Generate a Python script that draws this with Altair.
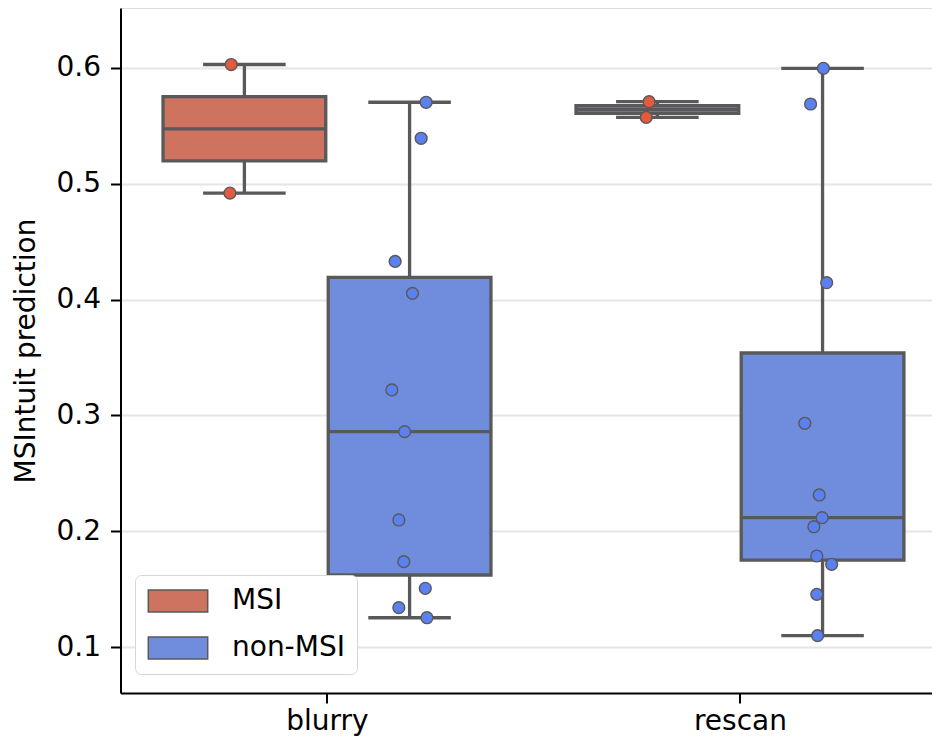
import altair as alt
import pandas as pd

# ---- data ----
conditions = ["blurry", "rescan"]
groups = ["MSI", "non-MSI"]

blurry_msi = [0.603, 0.492]
blurry_msi_jitter = [-0.032, -0.035]
blurry_non = [0.5704, 0.5393, 0.433, 0.4054, 0.322, 0.286, 0.2097, 0.1737, 0.1507, 0.134, 0.1253]
blurry_non_jitter = [0.040, 0.028, -0.035, 0.007, -0.043, -0.012, -0.026, -0.014, 0.038, -0.026, 0.042]

rescan_msi = [0.5709, 0.5574]
rescan_msi_jitter = [-0.020, -0.027]
rescan_non = [0.5997, 0.5689, 0.4146, 0.2932, 0.2313, 0.2117, 0.2039, 0.1786, 0.1714, 0.1455, 0.1098]
rescan_non_jitter = [0.002, -0.029, 0.010, -0.043, -0.008, -0.001, -0.021, -0.014, 0.022, -0.014, -0.012]

y_ticks = [0.1, 0.2, 0.3, 0.4, 0.5, 0.6]
box_colors = ["#cd7360", "#708cdc"]
point_colors = ["#e25a40", "#5b80ef"]

rows = []
for cond, grp, vals, jit in [
    ("blurry", "MSI", blurry_msi, blurry_msi_jitter),
    ("blurry", "non-MSI", blurry_non, blurry_non_jitter),
    ("rescan", "MSI", rescan_msi, rescan_msi_jitter),
    ("rescan", "non-MSI", rescan_non, rescan_non_jitter),
]:
    for v, j in zip(vals, jit):
        rows.append({"cond": cond, "group": grp, "value": v, "jitter": j})
df = pd.DataFrame(rows)

FONT = "DejaVu Sans"
center_expr = (f"indexof({conditions}, datum.cond) + "
               f"(datum.group == '{groups[0]}' ? -0.2 : 0.2)")

xscale = alt.Scale(domain=[-0.5, 1.465], nice=False, zero=False)
yscale = alt.Scale(domain=[0.0603, 0.6518], nice=False, zero=False)

xaxis = alt.Axis(values=[0, 1], labelExpr=f"{conditions}[datum.value]", title=None,
                 grid=False, tickSize=10, tickWidth=2, tickColor="black",
                 domainColor="black", domainWidth=2, labelFontSize=28, labelFont=FONT,
                 labelColor="black", labelPadding=4)
yaxis = alt.Axis(values=y_ticks, format=".1f", title="MSIntuit prediction",
                 titleFontSize=28, titleFont=FONT, titleFontWeight="normal",
                 titleColor="black", titlePadding=15,
                 labelFontSize=28, labelFont=FONT, labelColor="black", labelPadding=10,
                 tickSize=10, tickWidth=2, tickColor="black",
                 domainColor="black", domainWidth=2,
                 grid=True, gridColor="#e6e6e6", gridWidth=2)

stats = (
    alt.Chart(df)
    .transform_aggregate(
        q1="q1(value)", med="median(value)", q3="q3(value)",
        lo="min(value)", hi="max(value)", groupby=["cond", "group"])
    .transform_calculate(xc=center_expr)
    .transform_calculate(xl="datum.xc - 0.197", xr="datum.xc + 0.197",
                         cl="datum.xc - 0.1", cr="datum.xc + 0.1")
)

EDGE = "#595959"
LW = 3.3

whisker = stats.mark_rule(color=EDGE, strokeWidth=LW).encode(
    x=alt.X("xc:Q", scale=xscale, axis=xaxis),
    y=alt.Y("lo:Q", scale=yscale, axis=yaxis),
    y2="hi:Q",
)
cap_lo = stats.mark_rule(color=EDGE, strokeWidth=LW).encode(
    x=alt.X("cl:Q", scale=xscale, axis=xaxis), x2="cr:Q",
    y=alt.Y("lo:Q", scale=yscale, axis=yaxis),
)
cap_hi = stats.mark_rule(color=EDGE, strokeWidth=LW).encode(
    x=alt.X("cl:Q", scale=xscale, axis=xaxis), x2="cr:Q",
    y=alt.Y("hi:Q", scale=yscale, axis=yaxis),
)
box = stats.mark_rect(stroke=EDGE, strokeWidth=LW, opacity=1).encode(
    x=alt.X("xl:Q", scale=xscale, axis=xaxis), x2="xr:Q",
    y=alt.Y("q1:Q", scale=yscale, axis=yaxis), y2="q3:Q",
    color=alt.Color("group:N", scale=alt.Scale(domain=groups, range=box_colors),
                    legend=alt.Legend(
                        title=None, orient="none", legendX=14.5, legendY=567,
                        symbolType="M-2.7,-1H2.7V1H-2.7Z", symbolSize=484,
                        symbolOffset=17,
                        symbolStrokeColor=EDGE, symbolStrokeWidth=1.5, symbolOpacity=1,
                        labelFontSize=28, labelFont=FONT, labelColor="black",
                        labelOffset=40, padding=12, rowPadding=19,
                        fillColor="white", strokeColor="#d6d6d6", cornerRadius=6)),
)
median = stats.mark_rule(color=EDGE, strokeWidth=LW).encode(
    x=alt.X("xl:Q", scale=xscale, axis=xaxis), x2="xr:Q",
    y=alt.Y("med:Q", scale=yscale, axis=yaxis),
)
points = (
    alt.Chart(df)
    .transform_calculate(xc=center_expr)
    .transform_calculate(xp="datum.xc + datum.jitter")
    .mark_circle(size=140, opacity=1, stroke=EDGE, strokeWidth=1.4)
    .encode(
        x=alt.X("xp:Q", scale=xscale, axis=xaxis),
        y=alt.Y("value:Q", scale=yscale, axis=yaxis),
        fill=alt.Fill("group:N", scale=alt.Scale(domain=groups, range=point_colors),
                      legend=None),
    )
)

chart = (
    alt.layer(whisker, cap_lo, cap_hi, box, median, points)
    .resolve_scale(color="independent", fill="independent")
    .properties(
        width=811.5, height=685,
        autosize=alt.AutoSizeParams(type="none"),
        padding={"left": 112.5, "top": 0, "right": 0, "bottom": 43},
    )
    .configure_view(stroke=None)
    .configure(font=FONT)
)

chart.save("out.html", embed_options={"renderer": "svg", "actions": False})
